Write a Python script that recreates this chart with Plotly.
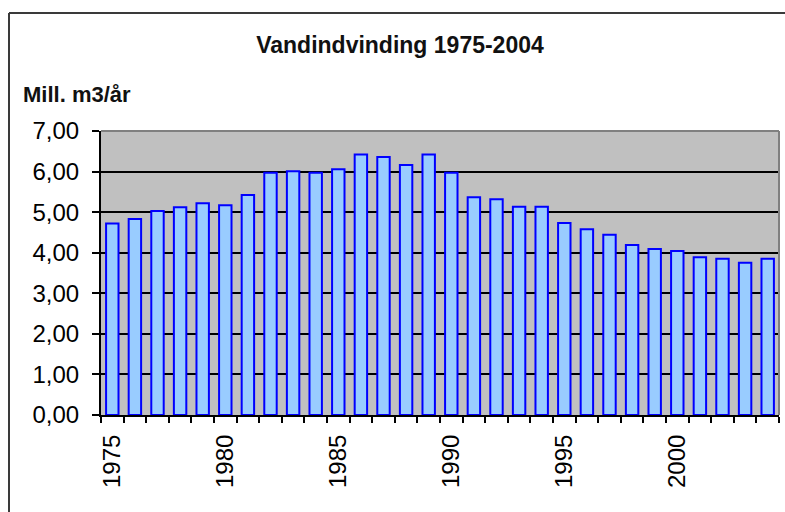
import plotly.graph_objects as go

# Annual water abstraction, million m3 per year
years = list(range(1975, 2005))
abstraction = [4.72, 4.83, 5.03, 5.12, 5.22, 5.17, 5.42, 5.97, 6.01, 5.97,
               6.06, 6.42, 6.36, 6.16, 6.42, 5.97, 5.37, 5.32, 5.13, 5.13,
               4.73, 4.58, 4.44, 4.19, 4.09, 4.04, 3.89, 3.85, 3.75, 3.85]
label_years = [1975, 1980, 1985, 1990, 1995, 2000]
label_text = [str(y) for y in label_years]

FONT = "Liberation Sans, Arial, sans-serif"

# plot-area geometry in pixels (785 x 512 canvas)
W, H = 785, 512
L, R, T, B = 101, 779, 131, 415
pw, ph = R - L, B - T

def px_x(x):
    return (x - L) / pw

def px_y(y):
    return (B - y) / ph

fig = go.Figure(
    go.Bar(
        x=years,
        y=abstraction,
        marker=dict(color="#99CCFF", line=dict(color="#0000FF", width=2)),
    )
)

fig.update_layout(
    width=W,
    height=H,
    margin=dict(l=L, r=W - R, t=T, b=H - B),
    paper_bgcolor="white",
    plot_bgcolor="#C0C0C0",
    separators=",.",
    bargap=0.45,
    showlegend=False,
    font=dict(family=FONT, color="black"),
    title=dict(
        text="<b>Vandindvinding 1975-2004</b>",
        x=400 / W,
        xref="container",
        xanchor="center",
        y=1 - 45 / H,
        yref="container",
        yanchor="middle",
        font=dict(size=23, family=FONT, color="#111111"),
    ),
)

fig.update_xaxes(
    range=[1974.5, 2004.5],
    tickmode="array",
    tickvals=label_years,
    ticktext=label_text,
    tickangle=-90,
    ticks="",
    ticklabelstandoff=8,
    tickfont=dict(size=24, family=FONT, color="black"),
    showgrid=False,
    zeroline=False,
    showline=True,
    linecolor="black",
    linewidth=2,
    minor=dict(tick0=1974.5, dtick=1, ticks="outside", ticklen=6,
               tickwidth=2, tickcolor="black", showgrid=False),
)

fig.update_yaxes(
    range=[0, 7],
    dtick=1,
    tickformat=".2f",
    ticks="outside",
    ticklen=7,
    tickwidth=2,
    tickcolor="black",
    ticklabelstandoff=8,
    tickfont=dict(size=24, family=FONT, color="black"),
    showgrid=True,
    gridcolor="black",
    gridwidth=2,
    zeroline=False,
    showline=True,
    linecolor="black",
    linewidth=2,
)

# plot-area frame on top and right, outer chart border on top and left
fig.add_shape(type="line", xref="paper", yref="paper", x0=0, x1=1, y0=1, y1=1,
              line=dict(color="#808080", width=2))
fig.add_shape(type="line", xref="paper", yref="paper", x0=1, x1=1, y0=0, y1=1,
              line=dict(color="#808080", width=2))
fig.add_shape(type="line", xref="paper", yref="paper",
              x0=px_x(9), x1=px_x(W + 5), y0=px_y(13), y1=px_y(13),
              line=dict(color="#3a3a3a", width=2))
fig.add_shape(type="line", xref="paper", yref="paper",
              x0=px_x(9), x1=px_x(9), y0=px_y(13), y1=px_y(H + 5),
              line=dict(color="#3a3a3a", width=2))

fig.add_annotation(
    text="<b>Mill. m3/år</b>",
    xref="paper", yref="paper",
    x=px_x(21), y=px_y(94),
    xanchor="left", yanchor="middle",
    showarrow=False,
    font=dict(size=22, family=FONT, color="#111111"),
)

fig.write_html("out.html")
